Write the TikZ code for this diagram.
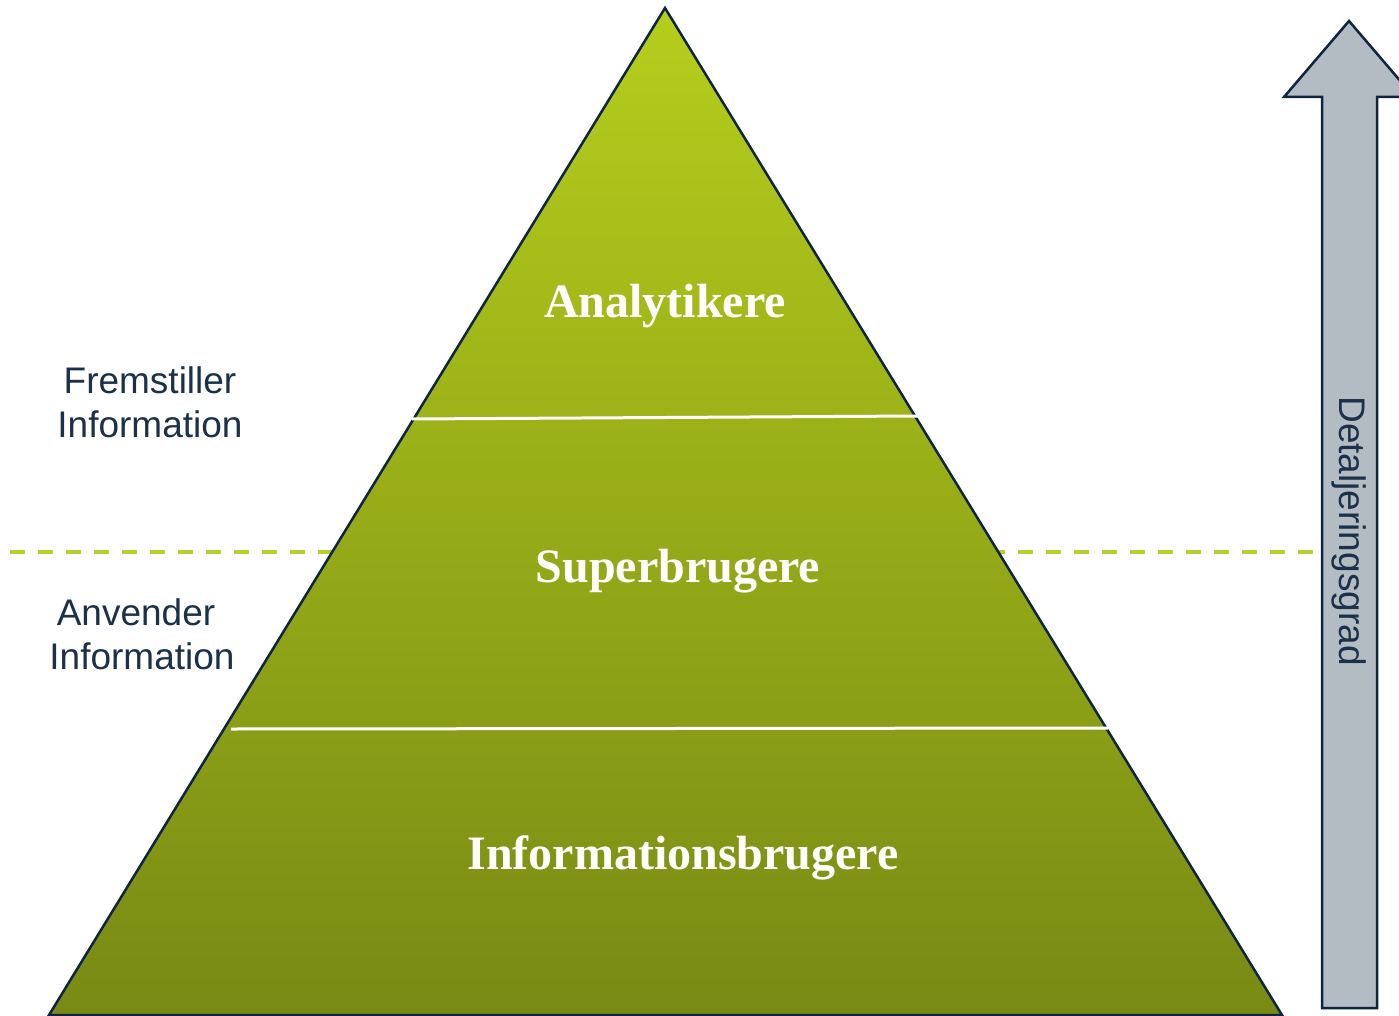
\documentclass[tikz,border=0pt]{standalone}
\usepackage{fontspec}
\setmainfont{Liberation Serif}
\setsansfont{Liberation Sans}
\begin{document}
\definecolor{navy}{RGB}{14,36,64}
\definecolor{txtnavy}{RGB}{27,49,73}
\definecolor{limetop}{RGB}{181,206,28}
\definecolor{olivebot}{RGB}{120,138,20}
\definecolor{dashlime}{RGB}{184,207,42}
\definecolor{arrowgray}{RGB}{180,188,195}
\begin{tikzpicture}[x=1pt,y=-1pt,
  sidetext/.style={font=\sffamily\fontsize{37}{44}\selectfont, text=txtnavy, align=center, inner sep=0pt},
  layerlabel/.style={font=\bfseries\fontsize{48}{56}\selectfont, text=white, inner sep=0pt},
  divider/.style={white, line width=3pt},
  dashsep/.style={dashlime, line width=4.5pt, dash pattern=on 15pt off 13pt}
]
\useasboundingbox (0,0) rectangle (1399,1016);
% dashed separator (behind)
\coordinate (dl) at (10,552);
\coordinate (dr) at (1313,552);
\draw[dashsep] (dl) -- (dr);
% pyramid
\coordinate (apex) at (665,8);
\coordinate (bl) at (49,1015);
\coordinate (br) at (1282,1015);
\path[top color=limetop, bottom color=olivebot] (apex) -- (bl) -- (br) -- cycle;
\draw[navy, line width=2.5pt, line join=miter] (apex) -- (bl) -- (br) -- cycle;
% dividers
\coordinate (d1l) at (412,419);
\coordinate (d1r) at (918,416);
\coordinate (d2l) at (231,729);
\coordinate (d2r) at (1108,728);
\draw[divider] (d1l) -- (d1r);
\draw[divider] (d2l) -- (d2r);
% layer labels
\node[layerlabel] (ana) at (665,306) {Analytikere};
\node[layerlabel] (sup) at (678,571) {Superbrugere};
\node[layerlabel] (inf) at (683,858) {Informationsbrugere};
% side texts
\node[sidetext] (frem) at (150,402) {Fremstiller\\Information};
\node[sidetext] (anv) at (142,634) {\hbox{Anvender\kern12pt}\\Information};
% arrow
\draw[navy, line width=2.5pt, fill=arrowgray, line join=miter]
  (1349,21) -- (1414,97) -- (1377,97) -- (1377,1008) -- (1322,1008) -- (1322,97) -- (1284,97) -- cycle;
\node[sidetext, rotate=-90] (det) at (1349,531) {Detaljeringsgrad};
\end{tikzpicture}
\end{document}
